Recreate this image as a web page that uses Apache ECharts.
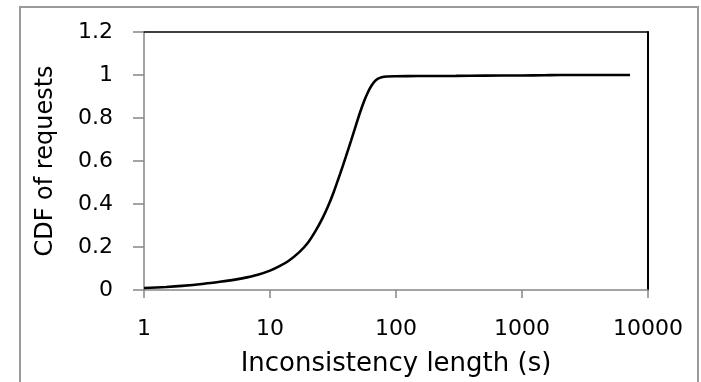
<!DOCTYPE html>
<html><head><meta charset="utf-8">
<script src="https://cdn.jsdelivr.net/npm/echarts@6/dist/echarts.min.js"></script>
<style>html,body{margin:0;padding:0;background:#fff;}#c{width:701px;height:382px;}</style>
</head><body><div id="c"></div>
<script>
// Data
const xValues = [1, 1.5, 2, 3, 4, 5, 6, 8, 10, 12, 14, 17, 20, 23, 26, 29, 32, 36, 40, 44, 48, 52, 56, 60, 64, 68, 72, 77, 85, 100, 150, 300, 500, 1000, 1500, 2000, 7200];
const cdfValues = [0.009, 0.014, 0.019, 0.029, 0.038, 0.046, 0.054, 0.071, 0.090, 0.112, 0.135, 0.175, 0.220, 0.275, 0.332, 0.392, 0.455, 0.540, 0.620, 0.695, 0.765, 0.828, 0.880, 0.921, 0.951, 0.971, 0.983, 0.990, 0.993, 0.994, 0.995, 0.996, 0.997, 0.998, 0.999, 1.0, 1.0];
const xTickLabels = ['1', '10', '100', '1000', '10000'];
const yTickLabels = ['0', '0.2', '0.4', '0.6', '0.8', '1', '1.2'];
const xTitle = 'Inconsistency length (s)';
const yTitle = 'CDF of requests';

const font = 'DejaVu Sans';
const gray = '#868686';
const chart = echarts.init(document.getElementById('c'), null, {renderer: 'canvas'});
chart.setOption({
  animation: false,
  backgroundColor: '#fff',
  graphic: [{
    type: 'rect', shape: {x: 20, y: 7, width: 678, height: 392},
    style: {fill: 'none', stroke: '#9a9a9a', lineWidth: 2}, z: 0
  }],
  grid: {left: 144, right: 53, top: 32, bottom: 87, containLabel: false},
  xAxis: [{
    type: 'log', logBase: 10, min: 1, max: 10000,
    name: xTitle, nameLocation: 'middle', nameGap: 61,
    nameTextStyle: {fontFamily: font, fontSize: 26, color: '#000'},
    axisLine: {show: true, onZero: false, lineStyle: {color: gray, width: 1.5}},
    axisTick: {show: true, inside: false, length: 8, lineStyle: {color: gray, width: 1.5}},
    minorTick: {show: false},
    splitLine: {show: false},
    axisLabel: {margin: 28, fontFamily: font, fontSize: 22, color: '#000',
      formatter: function (v) { const i = Math.round(Math.log10(v)); return xTickLabels[i] !== undefined ? xTickLabels[i] : ''; }}
  }, {
    type: 'log', logBase: 10, min: 1, max: 10000, position: 'top',
    axisLine: {show: true, onZero: false, lineStyle: {color: '#000', width: 1.5}},
    axisTick: {show: false}, axisLabel: {show: false}, splitLine: {show: false}
  }],
  yAxis: [{
    type: 'value', min: 0, max: 1.2, interval: 0.2,
    name: yTitle, nameLocation: 'middle', nameGap: 86, nameRotate: 90,
    nameTextStyle: {fontFamily: font, fontSize: 24, color: '#000'},
    axisLine: {show: true, onZero: false, lineStyle: {color: gray, width: 1.5}},
    axisTick: {show: true, inside: false, length: 11, lineStyle: {color: gray, width: 1.5}},
    splitLine: {show: false},
    axisLabel: {margin: 31, fontFamily: font, fontSize: 22, color: '#000',
      formatter: function (v) { const i = Math.round(v / 0.2); return yTickLabels[i] !== undefined ? yTickLabels[i] : ''; }}
  }, {
    type: 'value', min: 0, max: 1.2, interval: 0.2, position: 'right',
    axisLine: {show: true, onZero: false, lineStyle: {color: '#000', width: 2}},
    axisTick: {show: false}, axisLabel: {show: false}, splitLine: {show: false}
  }],
  series: [{
    type: 'line', xAxisIndex: 0, yAxisIndex: 0,
    data: xValues.map((x, i) => [x, cdfValues[i]]),
    smooth: 0.3, showSymbol: false, symbol: 'none',
    lineStyle: {color: '#000', width: 2.6}
  }]
});
</script></body></html>
